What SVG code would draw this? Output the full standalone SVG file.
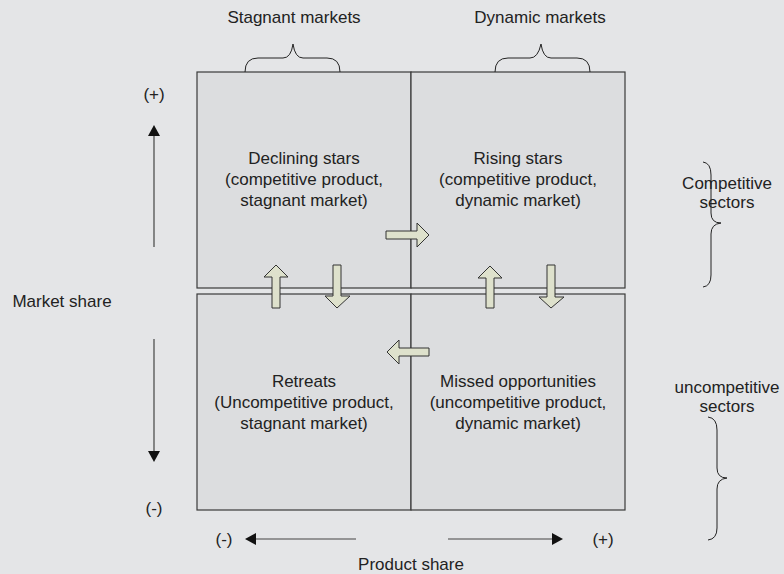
<svg xmlns="http://www.w3.org/2000/svg" width="784" height="574" viewBox="0 0 784 574">
<defs>
<style>
text{font-family:"Liberation Sans",Arial,sans-serif;font-size:17px;fill:#222;text-anchor:middle}
.box{fill:#dcdddf;stroke:#3a3a3a;stroke-width:1.2}
.bar{fill:#dee1cc;stroke:#333;stroke-width:1}
.brace{fill:none;stroke:#222;stroke-width:1}
.ax{stroke:#444;stroke-width:1.2;fill:none}
.head{fill:#111}
</style>
</defs>
<rect width="784" height="574" fill="#e4e5e7"/>
<g id="quadrants">
<g id="declining-stars"><rect class="box" x="197" y="72" width="214" height="216"/>
<text x="304" y="164">Declining stars</text><text x="304" y="185">(competitive product,</text><text x="304" y="206">stagnant market)</text></g>
<g id="rising-stars"><rect class="box" x="411" y="72" width="214" height="216"/>
<text x="518" y="164">Rising stars</text><text x="518" y="185">(competitive product,</text><text x="518" y="206">dynamic market)</text></g>
<g id="retreats"><rect class="box" x="197" y="294" width="214" height="216"/>
<text x="304" y="387">Retreats</text><text x="304" y="408">(Uncompetitive product,</text><text x="304" y="429">stagnant market)</text></g>
<g id="missed-opportunities"><rect class="box" x="411" y="294" width="214" height="216"/>
<text x="518" y="387">Missed opportunities</text><text x="518" y="408">(uncompetitive product,</text><text x="518" y="429">dynamic market)</text></g>
</g>
<g id="connectors">
<polygon class="bar" points="386,231 417,231 417,223 429,235 417,247 417,239 386,239"/>
<polygon class="bar" points="429,348 399,348 399,340 387,352 399,364 399,356 429,356"/>
<polygon class="bar" points="272,308 272,277 264,277 276,265 288,277 280,277 280,308"/>
<polygon class="bar" points="333,265 341,265 341,296 350,296 337,308 325,296 333,296"/>
<polygon class="bar" points="486,308 486,278 478,278 490,266 502,278 494,278 494,308"/>
<polygon class="bar" points="547,265 555,265 555,297 564,297 551,308 539,297 547,297"/>
</g>
<g id="braces">
<path class="brace" d="M245,72 Q245,58 258,58 L283,58 Q291,58 293,44 Q295,58 303,58 L327,58 Q340,58 340,72"/>
<path class="brace" d="M495,72 Q495,58 508,58 L530,58 Q538,58 541,44 Q543,58 551,58 L577,58 Q590,58 590,72"/>
<path class="brace" d="M703,162 Q711,163 711,175 L711,213 Q711,223 721,223 Q711,224 711,234 L711,275 Q711,286 703,287"/>
<path class="brace" d="M708,417 Q717,418 717,430 L717,468 Q717,478 727,478 Q717,479 717,489 L717,528 Q717,539 708,540"/>
</g>
<g id="axes">
<line class="ax" x1="154" y1="247" x2="154" y2="134"/><polygon class="head" points="154,125 148,136 160,136"/>
<line class="ax" x1="154" y1="339" x2="154" y2="452"/><polygon class="head" points="154,462 148,451 160,451"/>
<line class="ax" x1="356" y1="539" x2="255" y2="539"/><polygon class="head" points="245,539 256,533 256,545"/>
<line class="ax" x1="448" y1="539" x2="553" y2="539"/><polygon class="head" points="563,539 552,533 552,545"/>
</g>
<g id="labels">
<text x="294" y="23">Stagnant markets</text>
<text x="540" y="23">Dynamic markets</text>
<text x="727" y="189">Competitive</text>
<text x="727" y="208">sectors</text>
<text x="727" y="393">uncompetitive</text>
<text x="727" y="412">sectors</text>
<text x="154" y="100">(+)</text>
<text x="154" y="514">(-)</text>
<text x="62" y="307">Market share</text>
<text x="224" y="545">(-)</text>
<text x="603" y="545">(+)</text>
<text x="411" y="570">Product share</text>
</g>
</svg>
